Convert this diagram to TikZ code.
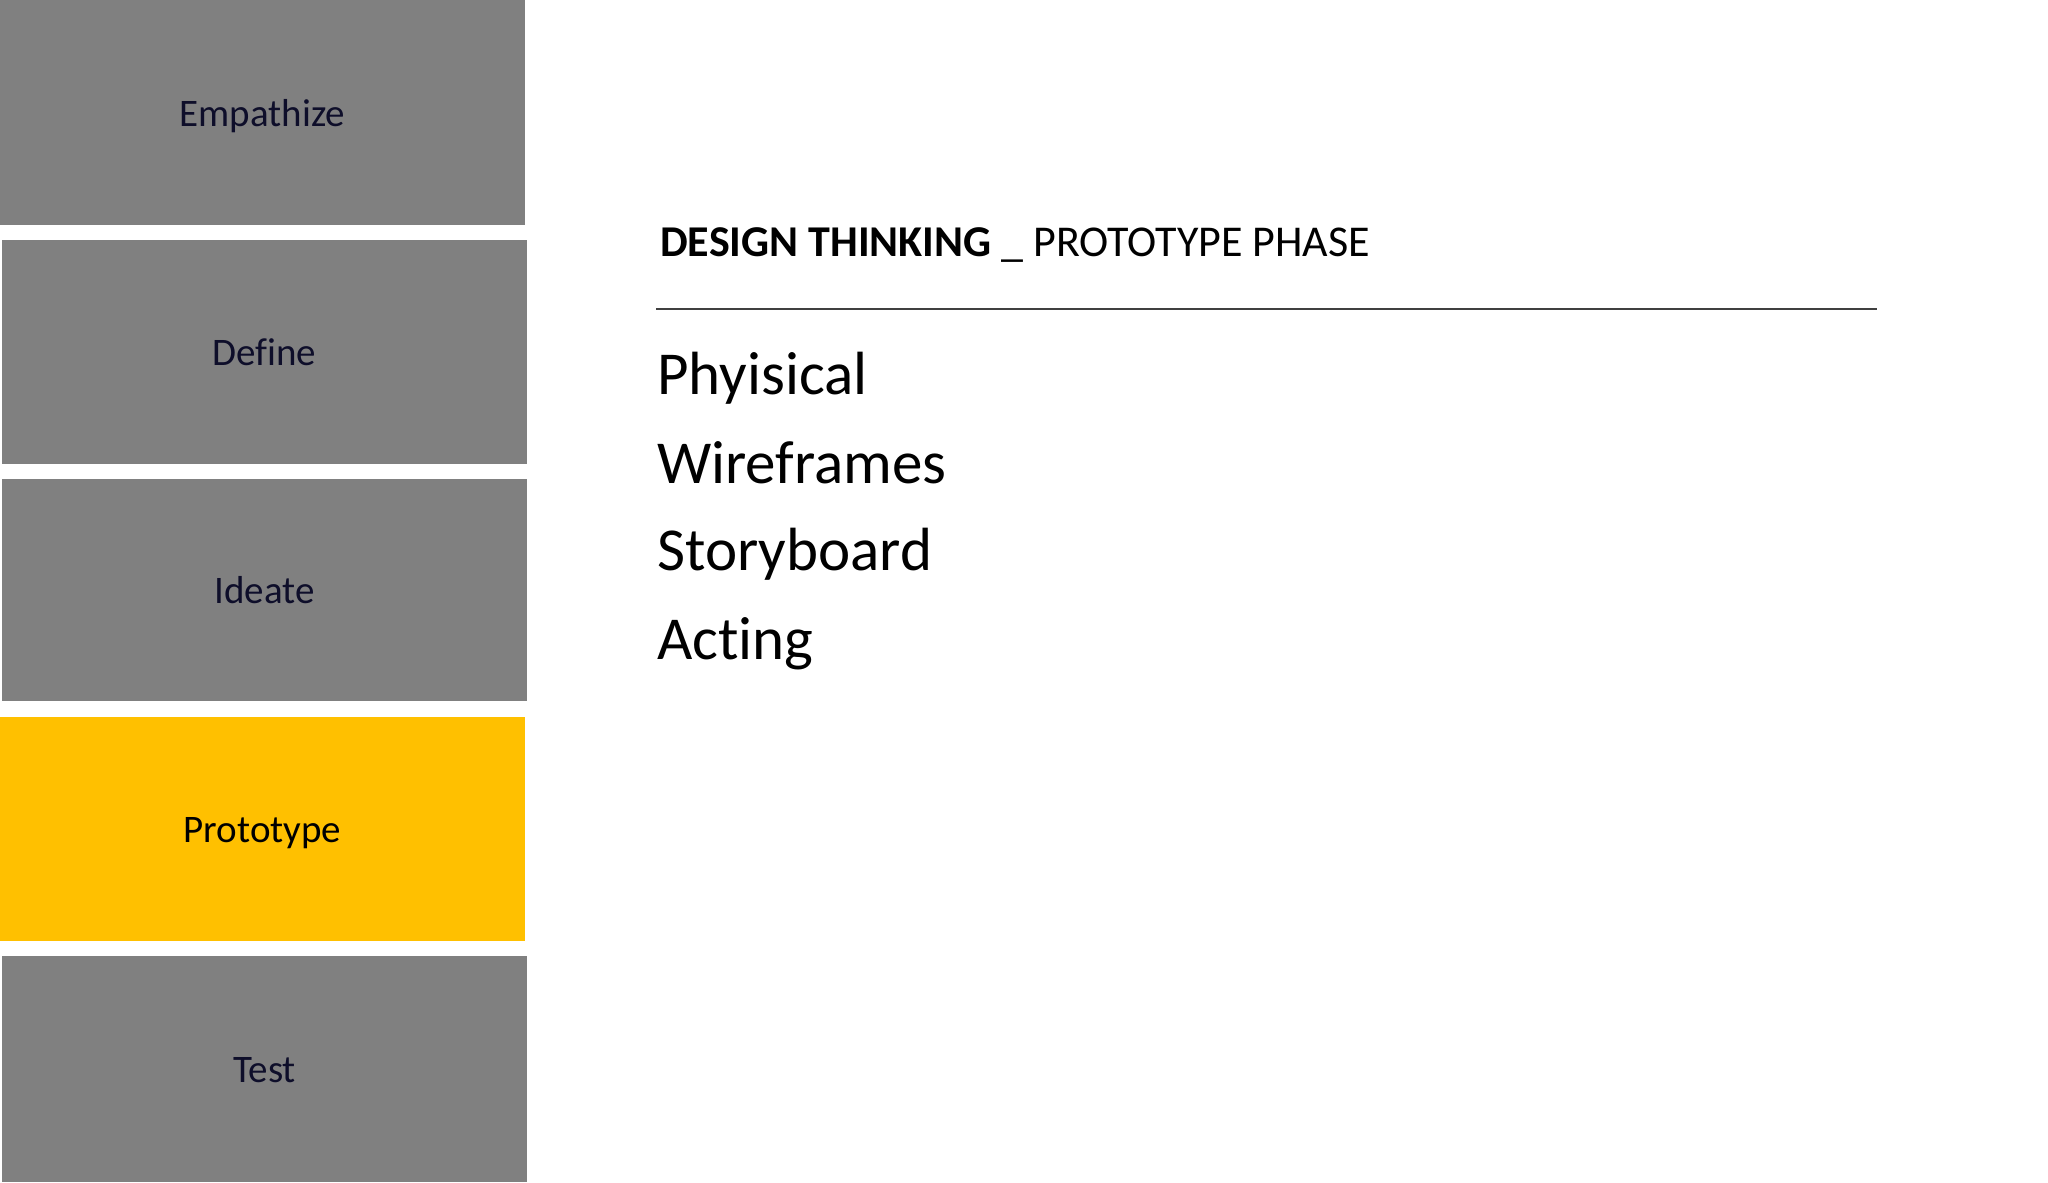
\documentclass[tikz,border=0pt]{standalone}
\usepackage{fontspec}
\setmainfont{Carlito}[Ligatures=NoCommon]
\definecolor{boxgray}{RGB}{128,128,128}
\definecolor{boxyellow}{RGB}{255,192,0}
\definecolor{navytext}{RGB}{14,14,42}
\definecolor{rulegray}{RGB}{64,64,64}
\begin{document}
\begin{tikzpicture}[x=1bp,y=-1bp,
  phase/.style={rectangle,fill=boxgray,draw=none,inner sep=0pt,
    text height=27bp,text depth=0bp,
    text=navytext,font=\fontsize{39bp}{46bp}\selectfont},
  active/.style={phase,fill=boxyellow,text=black},
  item/.style={anchor=base west,inner sep=0pt,font=\fontsize{61bp}{72bp}\selectfont},
  header/.style={anchor=base west,inner sep=0pt,font=\fontsize{44bp}{52bp}\selectfont}]
\useasboundingbox[fill=white] (0,0) rectangle (2048,1182);
\node[phase,minimum width=525bp,minimum height=225bp] (emp) at (262.5,112.5) {Empathize};
\node[phase,minimum width=525bp,minimum height=224bp] (def) at (264.5,352) {Define};
\node[phase,minimum width=525bp,minimum height=222bp] (ide) at (264.5,590) {Ideate};
\node[active,minimum width=525bp,minimum height=224bp] (pro) at (262.5,829) {Prototype};
\node[phase,minimum width=525bp,minimum height=226bp] (tst) at (264.5,1069) {Test};
\node[header] (head) at (660,256) {\textbf{DESIGN THINKING} \_ PROTOTYPE PHASE};
\coordinate (ruleL) at (656,309);
\coordinate (ruleR) at (1877,309);
\draw[rulegray,line width=2bp] (ruleL) -- (ruleR);
\node[item] (i1) at (657,394) {Phyisical};
\node[item] (i2) at (657,483) {Wireframes};
\node[item] (i3) at (657,570) {Storyboard};
\node[item] (i4) at (657,659) {Acting};
\end{tikzpicture}
\end{document}
